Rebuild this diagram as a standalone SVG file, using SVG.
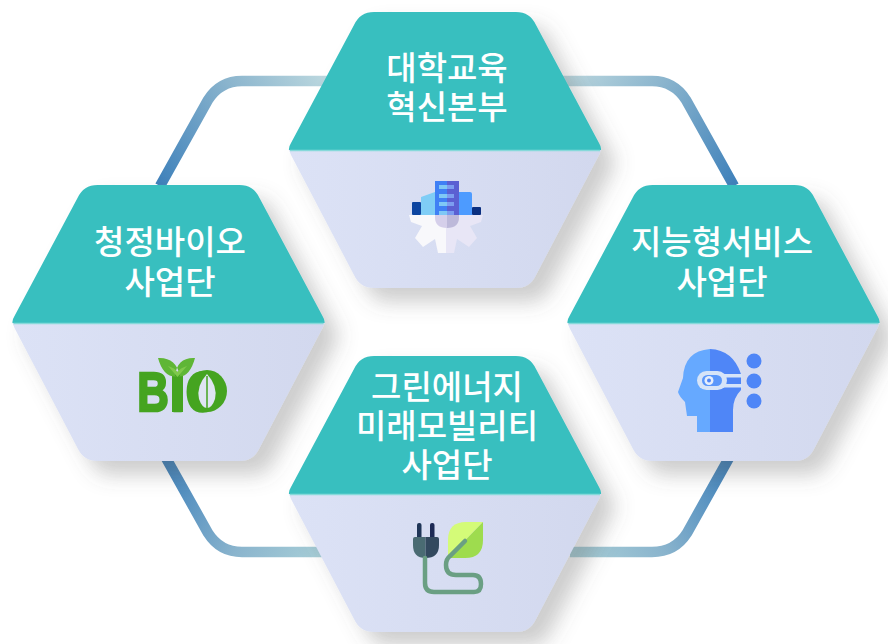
<svg xmlns="http://www.w3.org/2000/svg" xmlns:xlink="http://www.w3.org/1999/xlink" width="888" height="644" viewBox="0 0 888 644">
<style>
.t{font-family:"Noto Sans CJK KR","Noto Sans",sans-serif;font-size:33px;font-weight:500;fill:#fff;text-anchor:middle}
.c{fill:none;stroke-width:10.500}
.top{fill:#39bfbf}
.bot{fill:url(#low)}
.split{stroke:#86d9da;stroke-width:1.500}
</style>
<defs>
<linearGradient id="low" x1="0" y1="0" x2="1" y2="0"><stop offset="0" stop-color="#dce2f6"/><stop offset="1" stop-color="#d2d8ee"/></linearGradient>
<linearGradient id="g1" gradientUnits="userSpaceOnUse" x1="330" y1="81" x2="161" y2="184"><stop offset="0" stop-color="#bcd8df"/><stop offset=".45" stop-color="#8ab4cd"/><stop offset="1" stop-color="#4082bb"/></linearGradient>
<linearGradient id="g2" gradientUnits="userSpaceOnUse" x1="560" y1="81" x2="733" y2="184"><stop offset="0" stop-color="#bcd8df"/><stop offset=".45" stop-color="#8ab4cd"/><stop offset="1" stop-color="#4082bb"/></linearGradient>
<linearGradient id="g3" gradientUnits="userSpaceOnUse" x1="330" y1="552" x2="168" y2="462"><stop offset="0" stop-color="#a9d0d8"/><stop offset=".45" stop-color="#8ab4cd"/><stop offset="1" stop-color="#4082bb"/></linearGradient>
<linearGradient id="g4" gradientUnits="userSpaceOnUse" x1="570" y1="552" x2="727" y2="462"><stop offset="0" stop-color="#a9d0d8"/><stop offset=".45" stop-color="#8ab4cd"/><stop offset="1" stop-color="#4082bb"/></linearGradient>
<filter id="sh" x="-15%" y="-15%" width="140%" height="140%"><feDropShadow dx="14" dy="14" stdDeviation="10" flood-color="#5a5a5a" flood-opacity=".3"/></filter>
<g id="hex">
<path class="bot" d="M-156,0 L-154,5 L-91,125 Q-85,138 -71,138 L71,138 Q85,138 91,125 L154,5 L156,0 Z"/>
<path class="top" d="M-156,0 Q-156.500,-3 -154,-7 L-91,-125 Q-85,-138 -71,-138 L71,-138 Q85,-138 91,-125 L154,-7 Q156.500,-3 156,0 Z"/>
<path class="split" d="M-155,0.500 H155"/>
</g>
</defs>
<rect width="888" height="644" fill="#fff"/>
<g id="connectors">
<path class="c" stroke="url(#g1)" d="M330,81 H242 Q220,81 208,100 L160,186"/>
<path class="c" stroke="url(#g2)" d="M560,81 H652 Q674,81 686,100 L734,186"/>
<path class="c" stroke="url(#g3)" d="M330,552 H242 Q220,552 208,533 L166,458"/>
<path class="c" stroke="url(#g4)" d="M570,552 H652 Q675,552 687,533 L729,458"/>
</g>
<g id="node-top">
<use xlink:href="#hex" href="#hex" transform="translate(445,150)" filter="url(#sh)"/>
<text class="t" x="447" y="80">대학교육</text>
<text class="t" x="447" y="119">혁신본부</text>
<path fill="#f8f8fb" d="M409,215 H446 V253 H438 L435,239 L423,247 L415,238 L422,226 L411,222 Z"/>
<path fill="#e8e6f6" d="M483,215 H446 V253 H454 L457,239 L469,247 L477,238 L470,226 L481,222 Z"/>
<path fill="#7fcdf6" d="M421,215 V197 L435,192 V215 Z"/>
<path fill="#4d9bff" d="M459,192 H470 Q472,192 472,194 V215 H459 Z"/>
<rect x="412" y="202" width="9" height="13" rx="1" fill="#0d45a0"/>
<rect x="472" y="207" width="9" height="8" rx="1" fill="#0b2f80"/>
<path fill="#d5cfea" d="M435,215 H447 V228 Q435,228 435,217 Z"/>
<path fill="#bdb9da" d="M459,215 H447 V228 Q459,228 459,217 Z"/>
<path fill="#3f80f5" d="M435,181 H447 V215 H435 Z"/>
<path fill="#5b60d2" d="M447,181 H459 V215 H447 Z"/>
<g fill="#7fc8f5"><rect x="439" y="185" width="8" height="4"/><rect x="439" y="194" width="8" height="4"/><rect x="439" y="202" width="8" height="4"/><rect x="439" y="211" width="8" height="4"/></g>
<g fill="#7c9df0"><rect x="447" y="185" width="7" height="4"/><rect x="447" y="194" width="7" height="4"/><rect x="447" y="202" width="7" height="4"/><rect x="447" y="211" width="7" height="4"/></g>
</g>
<g id="node-left">
<use xlink:href="#hex" href="#hex" transform="translate(168.500,323)" filter="url(#sh)"/>
<text class="t" x="170" y="254">청정바이오</text>
<text class="t" x="170" y="294">사업단</text>
<text transform="scale(.78,1)" y="411" x="176 220 238" font-family="Liberation Sans" font-weight="700" font-size="56" fill="#45a420" stroke="#45a420" stroke-width="2.500">BIO</text>
<ellipse cx="207" cy="391" rx="20" ry="21" fill="#45a420"/>
<path d="M207,374 Q218,386 215,399 Q212,408 207,408 Q202,408 199,399 Q196,386 207,374 Z" fill="#dfe4f3"/>
<path d="M207,376 V408" stroke="#45a420" stroke-width="1.500"/>
<rect x="172" y="376" width="11" height="36" fill="#45a420"/>
<path fill="#5fb636" d="M158,358 Q176,357 180,376 Q164,380 158,358 Z M195,358 Q177,357 175,376 Q189,380 195,358 Z"/>
<path fill="#7fc94c" d="M177.500,377 L168,366 Q175,368 177.500,372 Q180,368 187,366 Z"/>
</g>
<g id="node-right">
<use xlink:href="#hex" href="#hex" transform="translate(723.500,323)" filter="url(#sh)"/>
<text class="t" x="722" y="254">지능형서비스</text>
<text class="t" x="722" y="294">사업단</text>
<path fill="#66a9ff" d="M710,349 Q684,351 683,378 L678,392 Q679,396 685,402 L687,416 H697 V432 H710 Z"/>
<path fill="#4f86f7" d="M710,349 Q733,350 741,374 V390 Q733,398 733,410 V432 H710 Z"/>
<circle cx="754" cy="361" r="7.500" fill="#4f86f7"/>
<circle cx="754" cy="381" r="7.500" fill="#4f86f7"/>
<circle cx="754" cy="401" r="7.500" fill="#4f86f7"/>
<rect x="697" y="371" width="30" height="19" rx="9.500" fill="#d6e4f8"/>
<rect x="702" y="375" width="20" height="11" rx="5.500" fill="#5a97fb"/>
<circle cx="709" cy="380.500" r="4.500" fill="#e6eefb"/>
<circle cx="709" cy="380.500" r="2" fill="#4f86f7"/>
<rect x="722" y="374" width="20" height="3.500" fill="#d6e4f8"/>
<rect x="722" y="384" width="20" height="3.500" fill="#d6e4f8"/>
</g>
<g id="node-bottom">
<use xlink:href="#hex" href="#hex" transform="translate(445,494)" filter="url(#sh)"/>
<text class="t" x="447" y="399">그린에너지</text>
<text class="t" x="447" y="438">미래모빌리티</text>
<text class="t" x="447" y="477">사업단</text>
<rect x="417" y="523" width="4.500" height="16" rx="2" fill="#1f3557"/>
<rect x="430" y="523" width="4.500" height="16" rx="2" fill="#1d2a55"/>
<path fill="#4a6b73" d="M425.500,537 H415 Q413,537 413,539 V545 Q413,558 425.500,558 Z"/>
<path fill="#33495f" d="M425.500,537 H437 Q439,537 439,539 V545 Q439,558 425.500,558 Z"/>
<path fill="#d4fb78" d="M483,522 H466 Q448,522 448,540 V558 Z"/>
<path fill="#9edc4e" d="M483,522 V540 Q483,558 465,558 H448 Z"/>
<path fill="none" stroke="#6a9f83" stroke-width="4.500" stroke-linecap="round" d="M425,558 V583 Q425,592 434,592 H474 Q481,592 481,584 Q481,575 473,575 H456 Q446,575 446,565 Q446,559 450,556 L465,541"/>
</g>
</svg>
